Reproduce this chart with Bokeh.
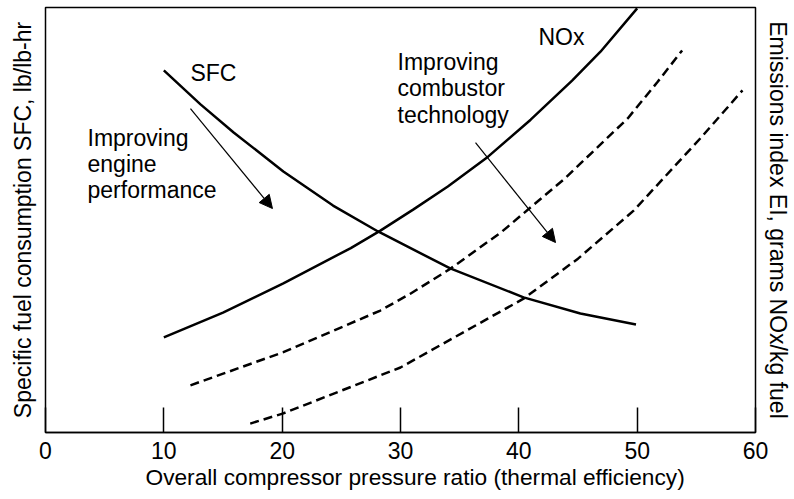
from bokeh.plotting import figure
from bokeh.models import Range1d, LinearAxis, FixedTicker, Arrow, NormalHead, ColumnDataSource, Title
from bokeh.embed import file_html
from bokeh.resources import INLINE
from bokeh.core.properties import value

FONT = "Liberation Sans"

# ---- data (y in arbitrary 0-100 units) ----
sfc_x = [10, 13.1, 15.9, 20.1, 24.3, 28.1, 34.2, 40.4, 45.2, 49.9]
sfc_y = [85.2, 77.2, 70.6, 61.4, 53.4, 47.3, 38.6, 31.8, 28.0, 25.4]

nox_x = [10, 15.0, 20.1, 25.8, 28.3, 31.1, 34.0, 37.4, 41.0, 44.5, 46.9, 50.0]
nox_y = [22.4, 28.2, 35.1, 43.4, 47.5, 52.5, 57.9, 64.9, 73.6, 82.8, 89.6, 99.8]

nox1_x = [12.25, 20.1, 28.3, 30.8, 34.2, 38.5, 43.9, 49.2, 51.7, 53.8]
nox1_y = [11.1, 18.9, 28.7, 32.6, 38.5, 47.1, 59.8, 73.9, 82.4, 89.9]

nox2_x = [17.3, 20.1, 30.0, 40.4, 45.0, 49.7, 55.4, 58.9]
nox2_y = [2.1, 4.5, 15.3, 31.5, 40.9, 52.2, 69.4, 80.5]

x_ticks = [0, 10, 20, 30, 40, 50, 60]

x_label = "Overall compressor pressure ratio (thermal efficiency)"
y_label_left = "Specific fuel consumption SFC, lb/lb-hr"
y_label_right = "Emissions index EI, grams NOx/kg fuel"

note_text = ["SFC", "NOx", "Improving", "engine", "performance",
             "Improving", "combustor", "technology"]
note_x = [12.25, 41.66, 3.55, 3.55, 3.55, 29.75, 29.75, 29.75]
note_y = [84.7, 93.0, 69.4, 63.1, 57.0, 87.1, 81.0, 74.8]

arrow_engine = (12.25, 76.2, 19.18, 52.7)
arrow_comb = (36.34, 68.2, 43.1, 44.7)

# ---- figure ----
p = figure(width=794, height=499, output_backend="svg", toolbar_location=None,
           x_range=Range1d(0, 60), y_range=Range1d(0, 100),
           min_border_left=45, min_border_right=39, min_border_top=7,
           min_border_bottom=67, y_axis_location=None)
p.background_fill_color = "white"
p.border_fill_color = "white"
p.outline_line_color = "black"
p.outline_line_width = 1.5
p.xgrid.visible = False
p.ygrid.visible = False

xa = p.xaxis[0]
xa.ticker = FixedTicker(ticks=x_ticks)
xa.major_tick_in = 25
xa.major_tick_out = 0
xa.minor_tick_line_color = None
xa.major_tick_line_width = 1.5
xa.axis_line_width = 1.5
xa.major_label_standoff = 9
xa.major_label_text_font = FONT
xa.major_label_text_font_size = "23px"
xa.major_label_text_color = "black"

p.add_layout(Title(text=x_label, align="left", offset=100, standoff=0,
                   text_font=FONT, text_font_size="22.7px", text_font_style="normal",
                   text_color="black"), "below")

for side, lab, so in (("left", y_label_left, 10), ("right", y_label_right, 9)):
    ax = LinearAxis(ticker=FixedTicker(ticks=[]), axis_label=lab,
                    major_tick_out=0, major_tick_in=0, minor_tick_line_color=None,
                    axis_line_color=None, major_label_text_font_size="0px",
                    axis_label_text_font=FONT, axis_label_text_font_size="23px",
                    axis_label_text_font_style="normal", axis_label_text_color="black",
                    axis_label_standoff=so)
    p.add_layout(ax, side)

p.line(sfc_x, sfc_y, line_color="black", line_width=2.5)
p.line(nox_x, nox_y, line_color="black", line_width=2.5)
p.line(nox1_x, nox1_y, line_color="black", line_width=2.5, line_dash="9 5")
p.line(nox2_x, nox2_y, line_color="black", line_width=2.5, line_dash="9 5")

src = ColumnDataSource(dict(x=note_x, y=note_y, t=note_text))
p.text(x="x", y="y", text="t", source=src, text_font=value(FONT),
       text_font_size=value("23px"), text_color="black",
       text_baseline="alphabetic", text_align="left")

for (xs, ys, xe, ye) in (arrow_engine, arrow_comb):
    p.add_layout(Arrow(end=NormalHead(size=13, fill_color="black", line_color="black"),
                       x_start=xs, y_start=ys, x_end=xe, y_end=ye,
                       line_color="black", line_width=1.2))

open("out.html", "w").write(file_html(p, INLINE))
